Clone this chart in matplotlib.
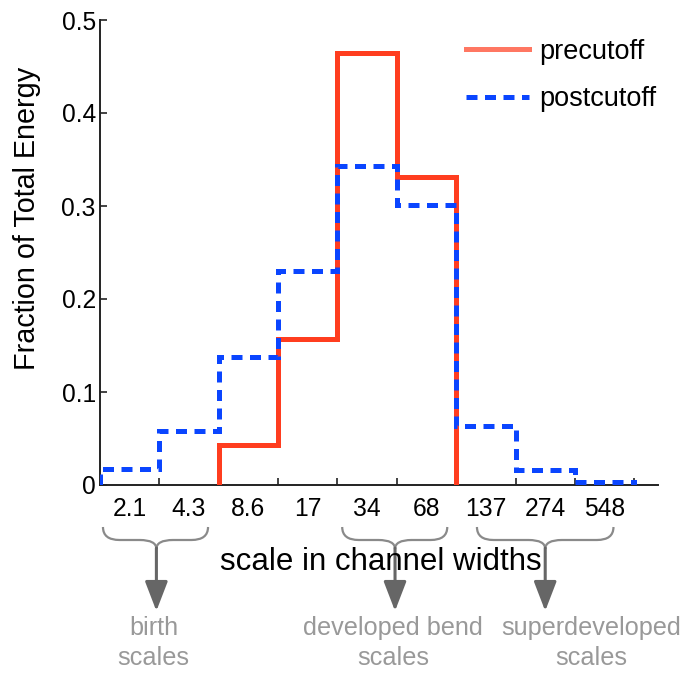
import numpy as np
import matplotlib
matplotlib.use("Agg")
import matplotlib.pyplot as plt
from matplotlib.path import Path
from matplotlib.patches import PathPatch, FancyArrowPatch
from matplotlib.lines import Line2D
from matplotlib.transforms import blended_transform_factory

# ---- data ----
scale_labels = ["2.1", "4.3", "8.6", "17", "34", "68", "137", "274", "548"]
precutoff = [0.0, 0.0, 0.043, 0.157, 0.464, 0.331, 0.0, 0.0, 0.0]
postcutoff = [0.017, 0.058, 0.138, 0.230, 0.343, 0.301, 0.063, 0.016, 0.003]
y_ticks = [0, 0.1, 0.2, 0.3, 0.4, 0.5]
y_tick_labels = ["0", "0.1", "0.2", "0.3", "0.4", "0.5"]
group_names = ["birth\nscales", "developed bend\nscales", "superdeveloped\nscales"]

W, H = 685, 675
plt.rcParams['font.family'] = ['Liberation Sans', 'DejaVu Sans']
fig = plt.figure(figsize=(W / 100, H / 100), dpi=100)
L, R, T, B = 100, 658, 20, 485
ax = fig.add_axes([L / W, 1 - B / H, (R - L) / W, (B - T) / H])

n = len(scale_labels)
edges = np.arange(n + 1)

RED = "#ff3d1f"
BLUE = "#0a45ff"

# red: only the bins with energy
nz = [i for i, v in enumerate(precutoff) if v > 0]
i0, i1 = nz[0], nz[-1] + 1
ax.stairs(precutoff[i0:i1], edges[i0:i1 + 1], baseline=0, color=RED, lw=3.6, zorder=3)
ax.stairs(postcutoff, edges, baseline=0, color=BLUE, lw=3.6,
          linestyle=(0, (2.2, 1.5)), zorder=4)

ax.set_xlim(0, 9.4)
ax.set_ylim(0, 0.5)
ax.set_xticks(edges[1:])
ax.set_xticklabels([])
ax.set_xticks(edges[:-1] + 0.5, minor=True)
ax.set_xticklabels(scale_labels, minor=True)
ax.tick_params(axis='x', which='major', direction='in', length=5, width=1.2, color='#222222')
ax.tick_params(axis='x', which='minor', length=0, pad=9, labelsize=17.7)
ax.set_yticks(y_ticks)
ax.set_yticklabels(y_tick_labels)
ax.tick_params(axis='y', direction='in', length=5, width=1.2, pad=3, labelsize=17.7, color='#222222')
for s in ['top', 'right']:
    ax.spines[s].set_visible(False)
for s in ['left', 'bottom']:
    ax.spines[s].set_linewidth(1.4)
    ax.spines[s].set_color('#222222')

# legend
handles = [Line2D([], [], color=RED, lw=3.6, alpha=0.7),
           Line2D([], [], color=BLUE, lw=3.6, linestyle=(0, (2.2, 1.5)))]
leg = ax.legend(handles, ["precutoff", "postcutoff"], loc='upper left',
                bbox_to_anchor=(455 / W, 1 - 28 / H), bbox_transform=fig.transFigure,
                frameon=False, fontsize=19.5, handlelength=2.33, handletextpad=0.37,
                labelspacing=0.8, borderaxespad=0)

# axis labels
fig.text(27 / W, 1 - 218 / H, "Fraction of Total Energy", rotation=90,
         ha='center', va='center', fontsize=20.7)
fig.text(381 / W, 1 - 562 / H, "scale in channel widths", ha='center', va='center',
         fontsize=22.5)

# braces with arrows
tr = blended_transform_factory(ax.transData, fig.transFigure)
def fy(p):
    return 1 - p / H

brace_spans = [(0.05, 1.82), (4.08, 5.85), (6.35, 8.65)]
brace_centers = [0.95, 4.97, 7.5]
text_x = [0.9, 4.94, 8.28]
r = 0.28
for (xl, xr), xc, name, tx in zip(brace_spans, brace_centers, group_names, text_x):
    verts = [(xl, fy(527)), (xl, fy(540)), (xl + r, fy(540)),
             (xc - r, fy(540)),
             (xc, fy(540)), (xc, fy(549)),
             (xc, fy(540)), (xc + r, fy(540)),
             (xr - r, fy(540)),
             (xr, fy(540)), (xr, fy(527))]
    codes = [Path.MOVETO, Path.CURVE3, Path.CURVE3, Path.LINETO,
             Path.CURVE3, Path.CURVE3, Path.CURVE3, Path.CURVE3,
             Path.LINETO, Path.CURVE3, Path.CURVE3]
    fig.add_artist(PathPatch(Path(verts, codes), transform=tr, fill=False,
                             edgecolor='#8a8a8a', lw=1.6))
    fig.add_artist(FancyArrowPatch(
        (xc, fy(548)), (xc, fy(611)), transform=tr,
        arrowstyle='-|>,head_length=1.3,head_width=0.5', mutation_scale=14,
        color='#666666', lw=2.2, shrinkA=0, shrinkB=0))
    fig.text(tx, fy(643), name, transform=tr, ha='center', va='center',
             fontsize=18.2, color='#999999', linespacing=1.28)

fig.savefig("out.png", dpi=100)
